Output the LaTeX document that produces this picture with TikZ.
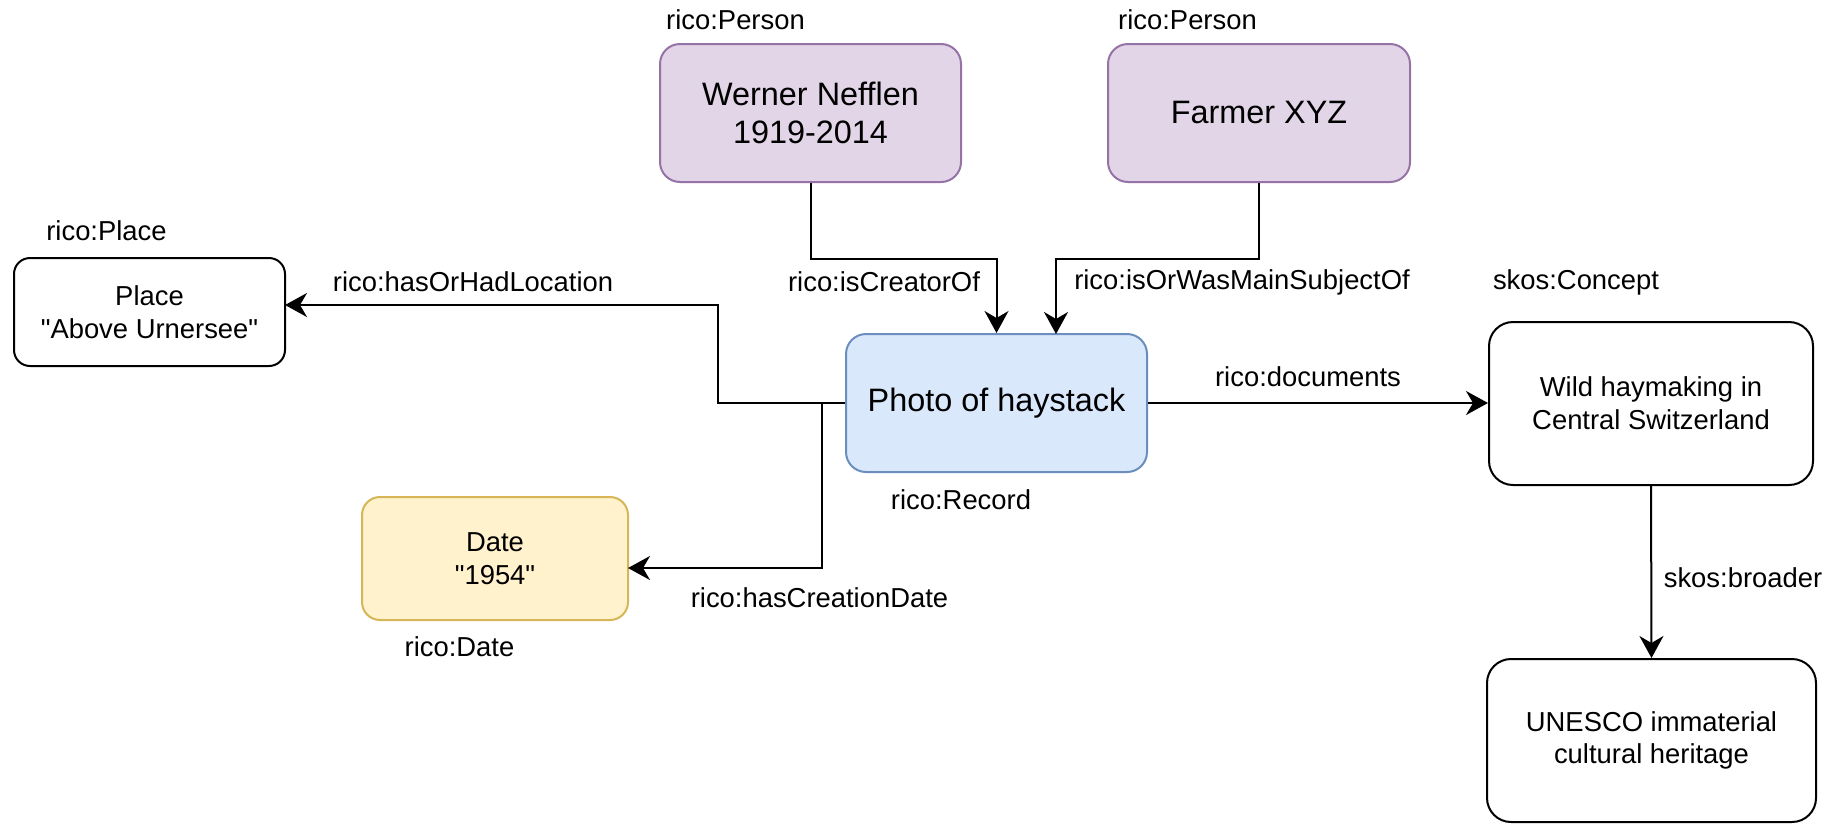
\documentclass[tikz,border=0pt]{standalone}
\usepackage{fontspec}
\setmainfont{Liberation Sans}
\usetikzlibrary{arrows.meta}
\font\qfont="Liberation Sans" at 13.7pt
\newcommand{\dq}{{\qfont\char34}}
\definecolor{purplefill}{HTML}{E1D5E7}
\definecolor{purpleline}{HTML}{9673A6}
\definecolor{bluefill}{HTML}{DAE8FC}
\definecolor{blueline}{HTML}{6C8EBF}
\definecolor{yellowfill}{HTML}{FFF2CC}
\definecolor{yellowline}{HTML}{D6B656}
\begin{document}
\begin{tikzpicture}[x=0.5pt,y=-0.5pt,
  box/.style={draw, line width=1pt, rounded corners=#1, align=center, inner sep=0pt,
    font=\fontsize{13.7}{16.4}\selectfont},
  box/.default=10pt,
  bigtext/.style={font=\fontsize{16.2}{19}\selectfont},
  person/.style={fill=purplefill, draw=purpleline},
  record/.style={fill=bluefill, draw=blueline},
  datebox/.style={fill=yellowfill, draw=yellowline},
  lbl/.style={inner sep=0pt, font=\fontsize{13.7}{16.4}\selectfont},
  conn/.style={line width=1pt},
  arr/.style={conn, -{Stealth[length=11pt,width=12pt,inset=3.5pt]}}]
\fill[white] (0,0) rectangle (1834,825);
\useasboundingbox (0,0) rectangle (1834,825);

% boxes
\node[box=10pt, person, bigtext, minimum width=150.5pt, minimum height=69pt] (werner) at (810.5,113) {Werner Nefflen\\1919-2014};
\node[box=10pt, person, bigtext, minimum width=151pt, minimum height=69pt] (farmer) at (1259,113) {Farmer XYZ};
\node[box=8pt, minimum width=135.5pt, minimum height=54pt] (place) at (149.5,312) {Place\\\dq Above Urnersee\dq};
\node[box=10pt, record, bigtext, minimum width=150.5pt, minimum height=69pt] (photo) at (996.5,403) {Photo of haystack};
\node[box=9pt, datebox, minimum width=133pt, minimum height=61.5pt] (date) at (495,558.5) {Date\\\dq 1954\dq};
\node[box=12pt, minimum width=162pt, minimum height=81.5pt] (wild) at (1651,403.5) {Wild haymaking in\\Central Switzerland};
\node[box=12pt, minimum width=164.5pt, minimum height=81.5pt] (unesco) at (1651.5,740.5) {UNESCO immaterial\\cultural heritage};

% class labels
\node[lbl] (lperson1) at (735.5,20) {rico:Person};
\node[lbl] (lperson2) at (1187.5,20) {rico:Person};
\node[lbl] (lplace) at (106.5,231) {rico:Place};
\node[lbl] (lconcept) at (1576,282) {skos:Concept};
\node[lbl] (lrecord) at (961,500) {rico:Record};
\node[lbl] (ldate) at (459.5,647) {rico:Date};

% connector end points
\coordinate (subjIn) at (1056,334);
\coordinate (placeIn) at (285,305);
\coordinate (dateIn) at (628,568);
\coordinate (locBend) at (717.5,403);
\coordinate (dateBend) at (822,403);

% connectors
\draw[arr] (werner.south) -- ++(0,76) -| (photo.north);
\draw[arr] (farmer.south) -- ++(0,76) -| (subjIn);
\draw[arr] (photo.west) -- (locBend) |- (placeIn);
\draw[arr] (photo.west) -- (dateBend) |- (dateIn);
\draw[arr] (photo.east) -- (photo.east -| wild.west);
\draw[arr] (wild.south) -- (unesco.north);

% connector labels
\node[lbl] (ecreator) at (884,282) {rico:isCreatorOf};
\node[lbl] (esubject) at (1242,282) {rico:isOrWasMainSubjectOf};
\node[lbl] (elocation) at (473,282) {rico:hasOrHadLocation};
\node[lbl] (ecreation) at (819.5,598) {rico:hasCreationDate};
\node[lbl] (edocuments) at (1308,377) {rico:documents};
\node[lbl] (ebroader) at (1743,578) {skos:broader};
\end{tikzpicture}
\end{document}
